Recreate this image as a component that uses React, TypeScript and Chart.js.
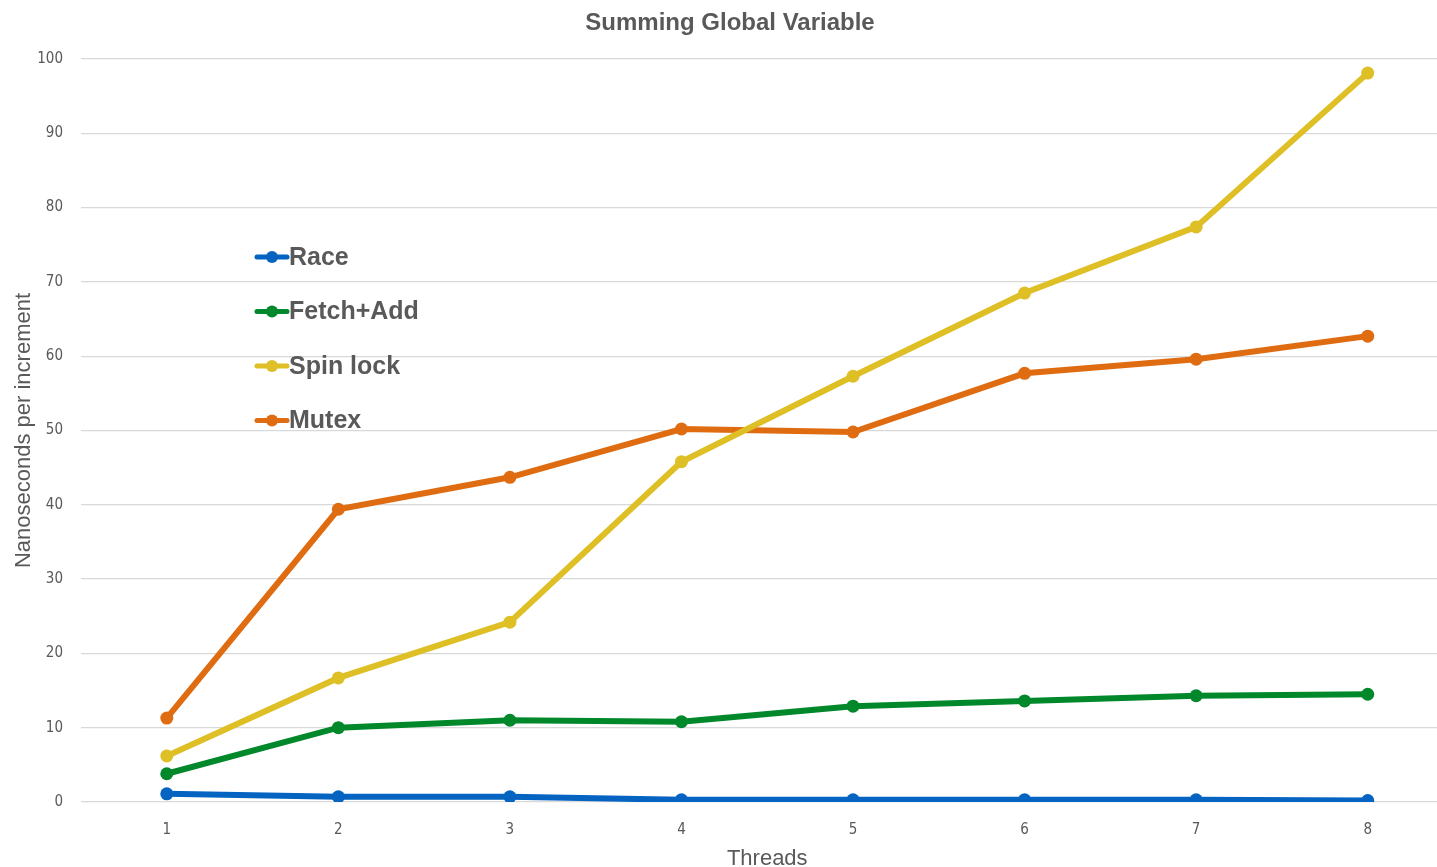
import React, { useEffect, useRef } from "react";
import { Chart, registerables } from "chart.js";

Chart.register(...registerables);

const threads = ["1", "2", "3", "4", "5", "6", "7", "8"];
const race = [1.1, 0.7, 0.7, 0.3, 0.3, 0.3, 0.3, 0.2];
const fetchAdd = [3.8, 10.0, 11.0, 10.8, 12.9, 13.6, 14.3, 14.5];
const spinLock = [6.2, 16.7, 24.2, 45.8, 57.3, 68.5, 77.4, 98.1];
const mutex = [11.3, 39.4, 43.7, 50.2, 49.8, 57.7, 59.6, 62.7];
const seriesNames = ["Race", "Fetch+Add", "Spin lock", "Mutex"];
const seriesColors = ["#0563C1", "#00882B", "#DEBF25", "#E06C12"];
const yTicks = [0, 10, 20, 30, 40, 50, 60, 70, 80, 90, 100];
const chartTitle = "Summing Global Variable";

const GRAY = "#595959";
const SANS = "'Liberation Sans', Arial, sans-serif";
const TICK_FONT = "'Liberation Sans Narrow', 'DejaVu Sans Condensed', sans-serif";

const CANVAS_W = 1460;
const CANVAS_H = 872;

const titlePlugin = {
  id: "customTitle",
  afterDraw(chart: any) {
    const { ctx } = chart;
    ctx.save();
    ctx.fillStyle = GRAY;
    ctx.font = `bold 24px ${SANS}`;
    ctx.textAlign = "center";
    ctx.textBaseline = "middle";
    ctx.fillText(chartTitle, chart.width / 2, 23);
    ctx.restore();
  },
};

const legendPlugin = {
  id: "innerLegend",
  afterDraw(chart: any) {
    const { ctx, chartArea } = chart;
    const x0 = chartArea.left + 176;
    const y0 = 257;
    const gap = 54.5;
    ctx.save();
    chart.data.datasets.forEach((ds: any, i: number) => {
      const y = y0 + i * gap;
      ctx.strokeStyle = ds.borderColor;
      ctx.lineWidth = 5;
      ctx.lineCap = "round";
      ctx.beginPath();
      ctx.moveTo(x0, y);
      ctx.lineTo(x0 + 30, y);
      ctx.stroke();
      ctx.fillStyle = ds.borderColor;
      ctx.beginPath();
      ctx.arc(x0 + 15, y, 6, 0, Math.PI * 2);
      ctx.fill();
      ctx.fillStyle = GRAY;
      ctx.font = `bold 25px ${SANS}`;
      ctx.textBaseline = "middle";
      ctx.textAlign = "left";
      ctx.fillText(ds.label, x0 + 32, y + 1);
    });
    ctx.restore();
  },
};

export default function App() {
  const ref = useRef<HTMLCanvasElement>(null);
  useEffect(() => {
    document.body.style.margin = "0";
    const seriesData = [race, fetchAdd, spinLock, mutex];
    const chart = new Chart(ref.current as HTMLCanvasElement, {
      type: "line",
      data: {
        labels: threads,
        datasets: seriesData.map((vals, i) => ({
          label: seriesNames[i],
          data: vals,
          borderColor: seriesColors[i],
          backgroundColor: seriesColors[i],
          borderWidth: 6,
          pointRadius: 6.5,
          pointHoverRadius: 6.5,
          pointBorderWidth: 0,
          tension: 0,
        })),
      },
      options: {
        animation: false,
        responsive: false,
        maintainAspectRatio: false,
        layout: { padding: { left: 0, right: 6, top: 59, bottom: 0 } },
        plugins: {
          legend: { display: false },
          tooltip: { enabled: false },
          title: { display: false },
        },
        scales: {
          x: {
            type: "category",
            offset: true,
            afterFit: (scale: any) => {
              scale.height = 70;
              scale.paddingLeft = 0;
              scale.paddingRight = 0;
            },
            grid: { display: false, drawTicks: false },
            border: { display: false },
            ticks: {
              color: GRAY,
              padding: 19,
              font: { family: TICK_FONT, size: 15 },
              maxRotation: 0,
            },
            title: {
              display: true,
              text: "Threads",
              color: GRAY,
              font: { family: SANS, size: 22 },
              padding: { top: 0, bottom: 0 },
            },
          },
          y: {
            type: "linear",
            min: 0,
            max: 100,
            afterBuildTicks: (scale: any) => {
              scale.ticks = yTicks.map((v) => ({ value: v }));
            },
            afterFit: (scale: any) => {
              scale.width = 81;
              scale.paddingTop = 0;
              scale.paddingBottom = 0;
            },
            grid: { color: "#D9D9D9", lineWidth: 1.3, drawTicks: false },
            border: { display: false },
            ticks: {
              color: GRAY,
              padding: 18,
              font: { family: TICK_FONT, size: 15 },
            },
            title: {
              display: true,
              text: "Nanoseconds per increment",
              color: GRAY,
              font: { family: SANS, size: 22 },
              padding: { top: 11, bottom: 0 },
            },
          },
        },
      },
      plugins: [titlePlugin, legendPlugin],
    });
    return () => chart.destroy();
  }, []);
  return (
    <div style={{ width: 1437, height: 867, overflow: "hidden", position: "relative" }}>
      <canvas
        ref={ref}
        width={CANVAS_W}
        height={CANVAS_H}
        style={{ display: "block", width: CANVAS_W, height: CANVAS_H }}
      />
    </div>
  );
}
